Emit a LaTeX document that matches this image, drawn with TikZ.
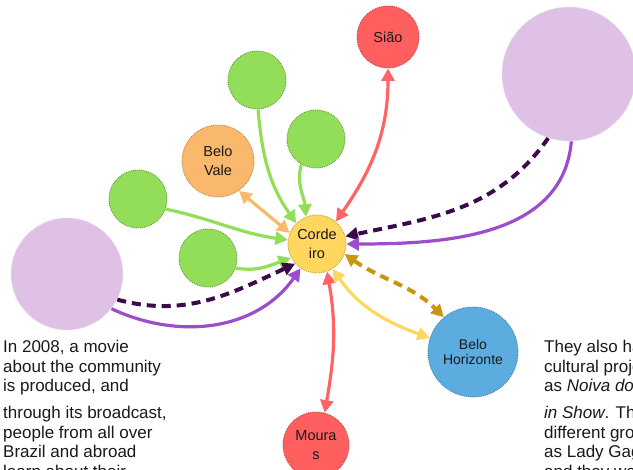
\documentclass[tikz,border=0pt]{standalone}
\usepackage{fontspec}
\setmainfont{Liberation Sans}
\usetikzlibrary{arrows.meta}

\definecolor{cYellow}{HTML}{FFD75E}
\definecolor{cGreen}{HTML}{93DE58}
\definecolor{cOrange}{HTML}{F9B86B}
\definecolor{cRed}{HTML}{FF5F5F}
\definecolor{cBlue}{HTML}{5CACDF}
\definecolor{cLilac}{HTML}{DFC1E6}
\definecolor{ePurple}{HTML}{9C4DCC}
\definecolor{eDark}{HTML}{3A0A4A}
\definecolor{eGold}{HTML}{C8960C}
\definecolor{eYellow}{HTML}{FFD75E}
\definecolor{eRed}{HTML}{FF6464}
\definecolor{eGreen}{HTML}{93DE58}
\definecolor{eOrange}{HTML}{F9B86B}

\begin{document}
\begin{tikzpicture}[x=1pt,y=-1pt,
  >={Triangle[length=12.5pt,width=13pt]},
  bubble/.style={circle, inner sep=0pt, line width=0.9pt, densely dotted,
    font=\fontsize{14.5}{19.5}\selectfont, align=center, text=black!90},
  link/.style={line width=3.2pt},
  dlink/.style={line width=4pt, dash pattern=on 9pt off 6pt},
  para/.style={anchor=base west, inner sep=0pt, font=\fontsize{17}{19.5}\selectfont, text=black!90}
]
\useasboundingbox (0,0) rectangle (633,470);
\clip (0,0) rectangle (633,470);

% community nodes
\node[bubble, fill=cYellow, draw=cYellow!75!black, minimum size=58pt] (cor) at (317,244) {Corde\\iro};
\node[bubble, fill=cRed, draw=cRed!75!black, minimum size=62pt] (sia) at (388,37) {Sião};
\node[bubble, fill=cRed, draw=cRed!75!black, minimum size=66pt] (mou) at (316,445) {Moura\\s};
\node[bubble, fill=cOrange, draw=cOrange!75!black, minimum size=72pt] (bv) at (218,161) {Belo\\Vale};
\node[bubble, fill=cBlue, draw=cBlue!75!black, minimum size=90pt, font=\fontsize{14}{15.5}\selectfont] (bh) at (473,352) {Belo\\Horizonte};
\node[bubble, fill=cGreen, draw=cGreen!70!black, minimum size=58pt] (g1) at (257,80) {};
\node[bubble, fill=cGreen, draw=cGreen!70!black, minimum size=58pt] (g2) at (316,139) {};
\node[bubble, fill=cGreen, draw=cGreen!70!black, minimum size=58pt] (g3) at (138,199) {};
\node[bubble, fill=cGreen, draw=cGreen!70!black, minimum size=58pt] (g4) at (208,258) {};
\node[bubble, fill=cLilac, draw=cLilac!55!white, minimum size=112pt] (lilL) at (67,274) {};
\node[bubble, fill=cLilac, draw=cLilac!55!white, minimum size=134pt] (lilR) at (569,74) {};

% connections
\draw[link, eRed, <->] (sia.south) to[out=-90, in=55] (cor.50);
\draw[link, eRed, <->] (cor.-70) to[out=-80, in=80] (mou.75);
\draw[link, eOrange, <->] (bv.-55) -- (cor.158);
\draw[link, eGreen, ->] (g1.-88) to[out=-85, in=125] (cor.135);
\draw[link, eGreen, ->] (g2.-120) to[out=-105, in=95] (cor.112);
\draw[link, eGreen, ->] (g3.-20) to[out=-12, in=172] (cor.172);
\draw[link, eGreen, ->] (g4.-20) to[out=-10, in=200] (cor.208);
\draw[dlink, eDark, ->] (lilL.-27) to[out=-15, in=205] (cor.222);
\draw[link, ePurple, ->] (lilL.-38) to[out=-25, in=235] (cor.236);
\draw[dlink, eDark, ->] (lilR.-108) to[out=-125, in=12] (cor.15);
\draw[link, ePurple, ->] (lilR.-88) to[out=-95, in=0] (cor.0);
\draw[dlink, eGold, <->] (cor.-20) to[out=-35, in=135] (bh.130);
\draw[link, eYellow, <->] (cor.-58) to[out=-55, in=160] (bh.162);

% text columns
\node[para] (l1) at (3,353) {In 2008, a movie};
\node[para] (l2) at (3,372.5) {about the community};
\node[para] (l3) at (3,392) {is produced, and};
\node[para] (l4) at (3,419) {through its broadcast,};
\node[para] (l5) at (3,438.5) {people from all over};
\node[para] (l6) at (3,458) {Brazil and abroad};
\node[para] (l7) at (3,477.5) {learn about their};

\node[para] (r1) at (544,353) {They also have};
\node[para] (r2) at (544,372.5) {cultural projects};
\node[para] (r3) at (544,392) {as \textit{Noiva do Cordeiro}};
\node[para] (r4) at (544,419) {\textit{in Show}. They};
\node[para] (r5) at (544,438.5) {different groups};
\node[para] (r6) at (544,458) {as Lady Gaga,};
\node[para] (r7) at (544,477.5) {and they were};
\end{tikzpicture}
\end{document}
